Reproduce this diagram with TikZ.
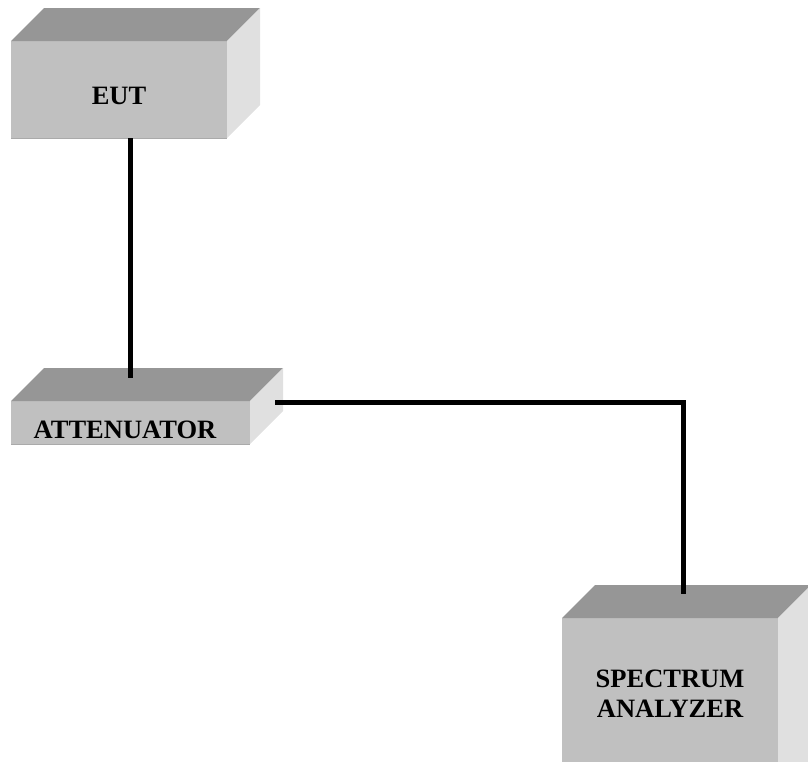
\documentclass[tikz,border=0pt]{standalone}
\usepackage{fontspec}
\setmainfont{Liberation Serif}
\definecolor{topgray}{RGB}{150,150,150}
\definecolor{frontgray}{RGB}{192,192,192}
\definecolor{sidegray}{RGB}{224,224,224}
\definecolor{edgegray}{RGB}{170,170,170}
\tikzset{
  front/.style={fill=frontgray, draw=none, inner sep=0pt, outer sep=0pt},
  lbl/.style={font=\fontsize{26.5}{30}\selectfont\bfseries, inner sep=0pt, anchor=base, align=center},
  cable/.style={line width=5pt, black, line join=miter},
}
\newcommand{\boxthreed}[1]{%
  \fill[topgray] (#1.north west) -- ++(33,-33) -- ($(#1.north east)+(33,-33)$) -- (#1.north east) -- cycle;
  \fill[sidegray] (#1.north east) -- ++(33,-33) -- ($(#1.south east)+(33,-33)$) -- (#1.south east) -- cycle;
  \draw[edgegray, line width=0.8pt] (#1.south west) -- (#1.south east);
}
\usetikzlibrary{calc}
\begin{document}
\begin{tikzpicture}[x=1pt, y=-1pt]
\useasboundingbox (0,0) rectangle (808,761);
\clip (0,0) rectangle (808,761);
% front faces
\node[front, minimum width=216pt, minimum height=97pt, anchor=north west] (eut) at (11,41) {};
\node[front, minimum width=239pt, minimum height=43pt, anchor=north west] (att) at (11,401) {};
\node[front, minimum width=216pt, minimum height=200pt, anchor=north west] (sa) at (562,618) {};
\boxthreed{eut}
\boxthreed{att}
\boxthreed{sa}
% labels
\node[lbl] (eutl) at (119,104) {EUT};
\node[lbl] (attl) at (125,438) {ATTENUATOR};
\node[lbl] (sal1) at (670,687) {SPECTRUM};
\node[lbl] (sal2) at (670,717) {ANALYZER};
% connection points
\coordinate (atttop) at (130,378);
\coordinate (attside) at (275,402);
\coordinate (satop) at (683,594);
\draw[cable] (eut.south -| atttop) -- (atttop);
\draw[cable] (attside) -- (satop |- attside) -- (satop);
\end{tikzpicture}
\end{document}
